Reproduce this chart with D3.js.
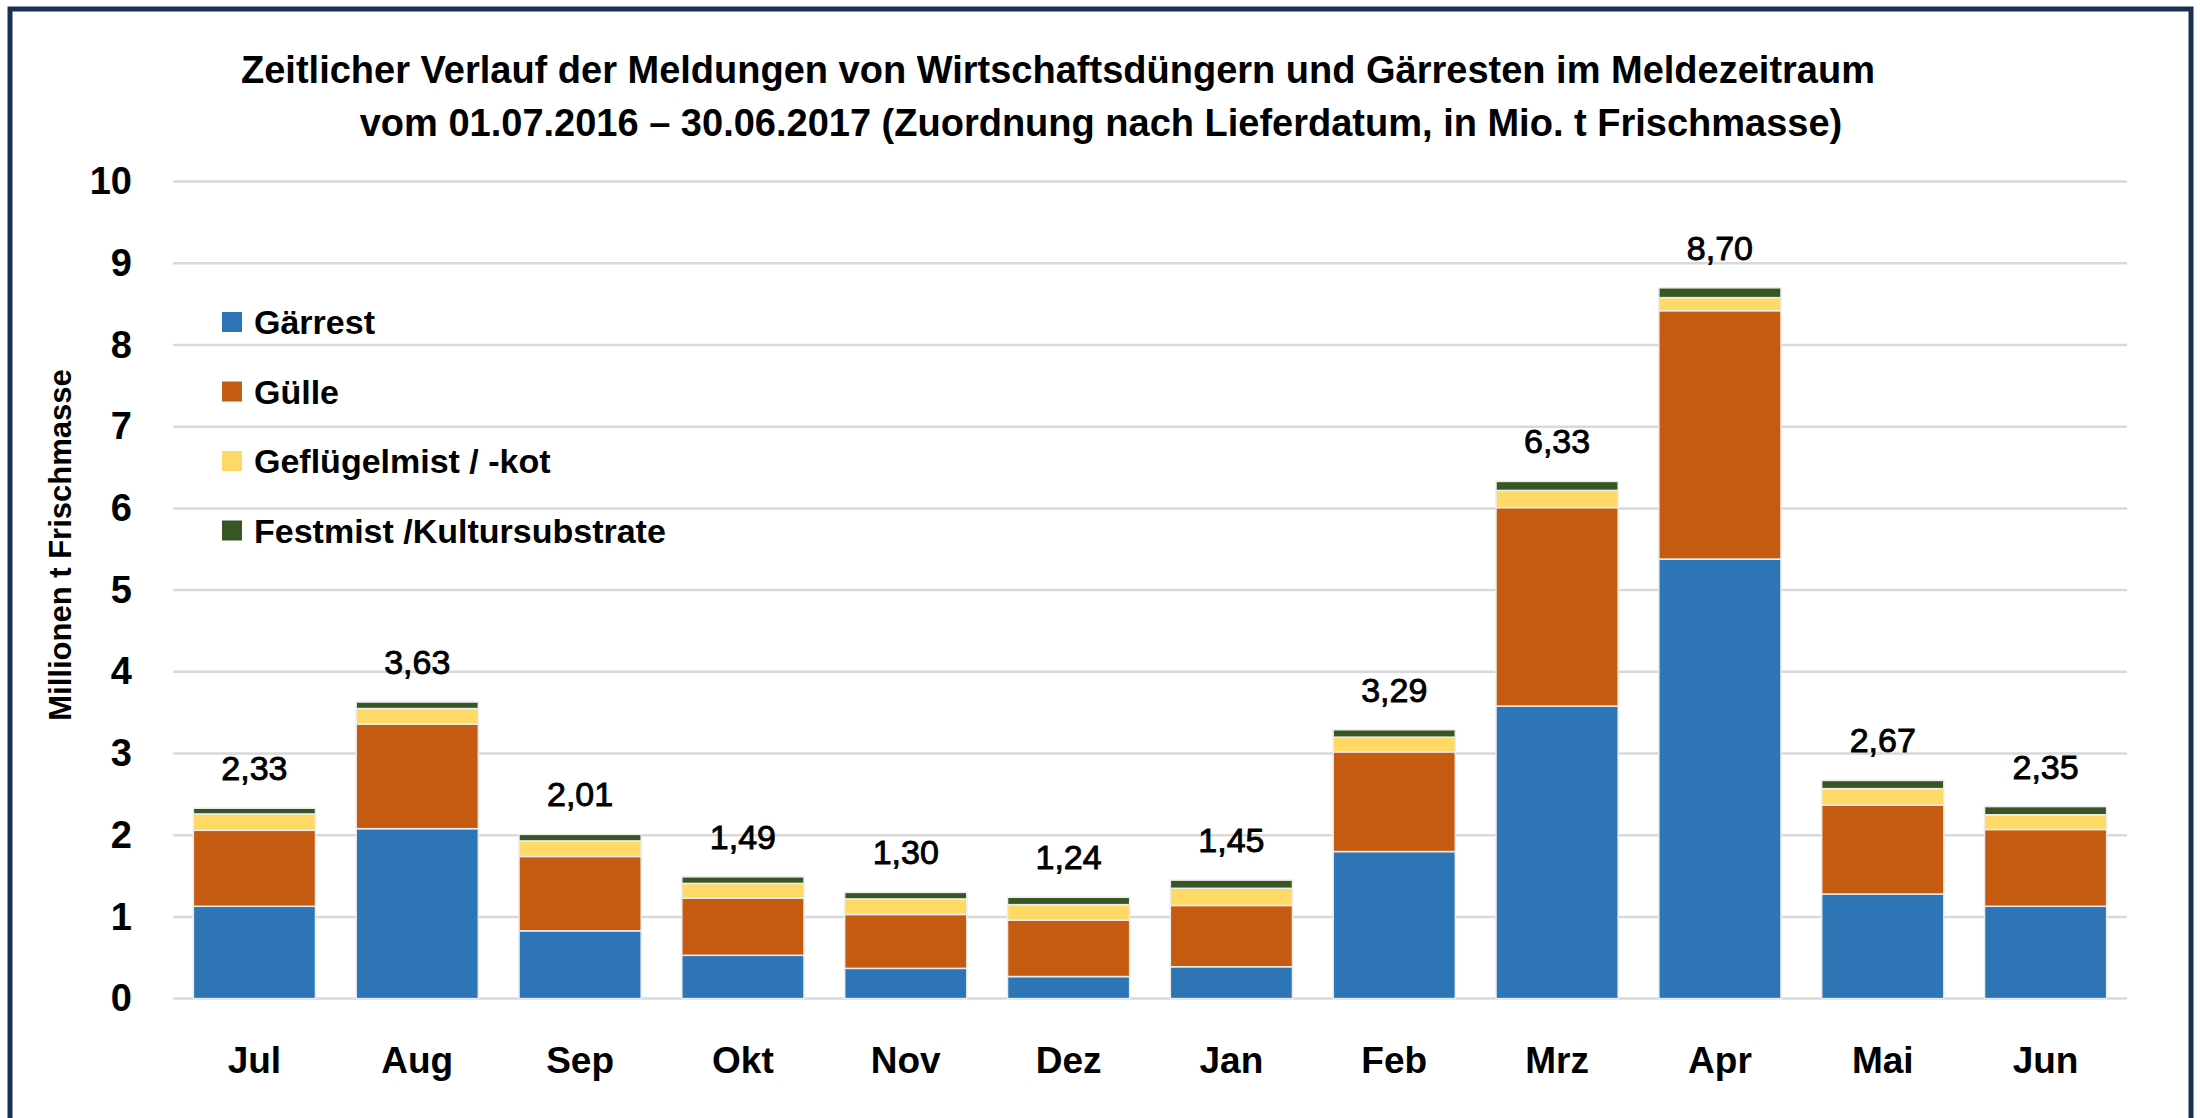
<!DOCTYPE html>
<html>
<head>
<meta charset="utf-8">
<script src="https://cdn.jsdelivr.net/npm/d3@7"></script>
<style>
  body { margin: 0; background: #fff; }
  text { font-family: "Liberation Sans", Arial, sans-serif; fill: #000; }
</style>
</head>
<body>
<svg id="chart" width="2200" height="1118"></svg>
<script>
// data
var months = ["Jul","Aug","Sep","Okt","Nov","Dez","Jan","Feb","Mrz","Apr","Mai","Jun"];
var gaerrest  = [1.13, 2.08, 0.83, 0.53, 0.37, 0.27, 0.39, 1.80, 3.58, 5.38, 1.28, 1.13];
var guelle    = [0.93, 1.28, 0.91, 0.70, 0.66, 0.69, 0.75, 1.22, 2.43, 3.04, 1.09, 0.94];
var gefluegel = [0.20, 0.19, 0.19, 0.18, 0.19, 0.19, 0.21, 0.18, 0.21, 0.16, 0.20, 0.18];
var festmist  = [0.07, 0.08, 0.08, 0.08, 0.08, 0.09, 0.10, 0.09, 0.11, 0.12, 0.10, 0.10];
var totals    = [2.33, 3.63, 2.01, 1.49, 1.30, 1.24, 1.45, 3.29, 6.33, 8.70, 2.67, 2.35];
var seriesNames = ["Gärrest", "Gülle", "Geflügelmist / -kot", "Festmist /Kultursubstrate"];
var yTicks = [0,1,2,3,4,5,6,7,8,9,10];
var title = ["Zeitlicher Verlauf der Meldungen von Wirtschaftsdüngern und Gärresten im Meldezeitraum",
             "vom 01.07.2016 – 30.06.2017 (Zuordnung nach Lieferdatum, in Mio. t Frischmasse)"];
var yTitle = "Millionen t Frischmasse";

var color = ["#2e75b6", "#c55a11", "#ffd966", "#375623"];

var svg = d3.select("#chart");

// frame
svg.append("rect")
  .attr("x", 10).attr("y", 9)
  .attr("width", 2181).attr("height", 1140)
  .attr("fill", "none")
  .attr("stroke", "#1b2f52")
  .attr("stroke-width", 5);

// title
svg.append("text").attr("x", 1058).attr("y", 83)
  .attr("text-anchor", "middle").attr("font-size", 38).attr("font-weight", "bold")
  .text(title[0]);
svg.append("text").attr("x", 1101).attr("y", 136)
  .attr("text-anchor", "middle").attr("font-size", 38).attr("font-weight", "bold")
  .text(title[1]);

// scales
var x = d3.scaleBand()
  .domain(months)
  .range([173, 2127])
  .paddingInner(0.25)
  .paddingOuter(0.125);

var y = d3.scaleLinear()
  .domain([0, 10])
  .range([998.6, 181.6]);

// gridlines
svg.append("g")
  .selectAll("line")
  .data(yTicks)
  .enter()
  .append("line")
    .attr("x1", 173).attr("x2", 2127)
    .attr("y1", function(d) { return y(d); })
    .attr("y2", function(d) { return y(d); })
    .attr("stroke", "#d9d9d9")
    .attr("stroke-width", 2.5);

// y axis
var yAxis = svg.append("g")
  .attr("transform", "translate(173,0)")
  .call(d3.axisLeft(y).tickValues(yTicks).tickSize(0).tickPadding(41));
yAxis.select(".domain").remove();
yAxis.selectAll("text")
  .attr("font-size", 38).attr("font-weight", "bold")
  .style("font-family", "Liberation Sans, Arial, sans-serif").attr("fill", "#000");

// x axis
var xAxis = svg.append("g")
  .attr("transform", "translate(0,998.6)")
  .call(d3.axisBottom(x).tickSize(0).tickPadding(48));
xAxis.select(".domain").remove();
xAxis.selectAll("text")
  .attr("font-size", 37).attr("font-weight", "bold")
  .style("font-family", "Liberation Sans, Arial, sans-serif").attr("fill", "#000");

// y axis title
svg.append("text")
  .attr("transform", "translate(71,545) rotate(-90)")
  .attr("text-anchor", "middle").attr("font-size", 31).attr("font-weight", "bold")
  .text(yTitle);

// stacked bars
var rows = months.map(function(m, i) {
  return {month: m, s0: gaerrest[i], s1: guelle[i], s2: gefluegel[i], s3: festmist[i]};
});
var stack = d3.stack().keys(["s0", "s1", "s2", "s3"]);
var layers = stack(rows);

svg.append("g")
  .selectAll("g")
  .data(layers)
  .enter()
  .append("g")
    .attr("fill", function(d, i) { return color[i]; })
  .selectAll("rect")
  .data(function(d) { return d; })
  .enter()
  .append("rect")
    .attr("x", function(d) { return x(d.data.month); })
    .attr("y", function(d) { return y(d[1]); })
    .attr("width", x.bandwidth())
    .attr("height", function(d) { return y(d[0]) - y(d[1]); })
    .attr("stroke", "#ececec")
    .attr("stroke-width", 1.5);

// total labels
var fmt = function(v) { return v.toFixed(2).replace(".", ","); };
svg.append("g")
  .selectAll("text")
  .data(totals)
  .enter()
  .append("text")
    .attr("x", function(d, i) { return x(months[i]) + x.bandwidth() / 2; })
    .attr("y", function(d) { return y(d) - 28; })
    .attr("text-anchor", "middle")
    .attr("font-size", 34)
    .attr("stroke", "#000")
    .attr("stroke-width", 0.9)
    .text(function(d) { return fmt(d); });

// legend
var legend = svg.append("g")
  .selectAll("g")
  .data(seriesNames)
  .enter()
  .append("g")
    .attr("transform", function(d, i) { return "translate(222," + (322 + i * 69.5) + ")"; });
legend.append("rect")
  .attr("x", 0).attr("y", -10)
  .attr("width", 20).attr("height", 20)
  .attr("fill", function(d, i) { return color[i]; });
legend.append("text")
  .attr("x", 32).attr("y", 0)
  .attr("dy", "0.36em")
  .attr("font-size", 34).attr("font-weight", "bold")
  .text(function(d) { return d; });
</script>
</body>
</html>
